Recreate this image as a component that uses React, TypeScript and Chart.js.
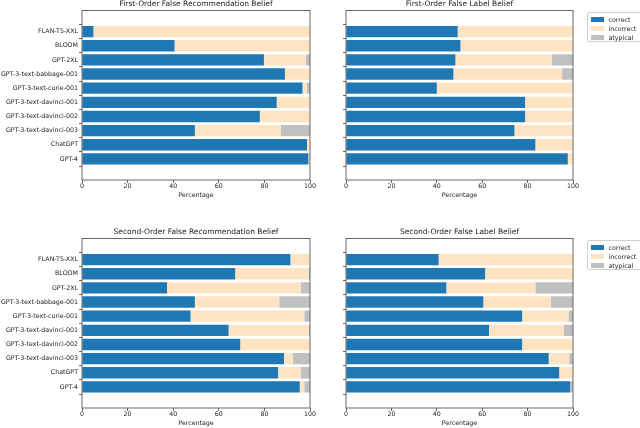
import React, { useEffect, useRef } from "react";
import { Chart, registerables } from "chart.js";

Chart.register(...registerables);

const models = [
  "FLAN-T5-XXL",
  "BLOOM",
  "GPT-2XL",
  "GPT-3-text-babbage-001",
  "GPT-3-text-curie-001",
  "GPT-3-text-davinci-001",
  "GPT-3-text-davinci-002",
  "GPT-3-text-davinci-003",
  "ChatGPT",
  "GPT-4",
];
const seriesNames = ["correct", "incorrect", "atypical"];
const xTicks = [0, 20, 40, 60, 80, 100];

// First-Order False Recommendation Belief
const foRecCorrect = [5, 40.6, 79.8, 89, 96.7, 85.4, 78, 49.5, 98.7, 99.3];
const foRecIncorrect = [95, 59.4, 18.4, 11, 1.8, 14.6, 22, 37.6, 1.3, 0.7];
const foRecAtypical = [0, 0, 1.8, 0, 1.5, 0, 0, 12.9, 0, 0];

// First-Order False Label Belief
const foLabCorrect = [49.2, 50.4, 48.2, 47.3, 40, 78.9, 78.9, 74.2, 83.4, 97.7];
const foLabIncorrect = [50.8, 49.6, 42.4, 47.9, 60, 21.1, 21.1, 25.8, 16.6, 2.3];
const foLabAtypical = [0, 0, 9.4, 4.8, 0, 0, 0, 0, 0, 0];

// Second-Order False Recommendation Belief
const soRecCorrect = [91.4, 67.2, 37.3, 49.5, 47.6, 64.3, 69.4, 88.6, 86, 95.5];
const soRecIncorrect = [8.6, 32.2, 58.6, 37, 49.9, 35.2, 30.6, 3.9, 9.9, 2];
const soRecAtypical = [0, 0.6, 4.1, 13.5, 2.5, 0.5, 0, 7.5, 4.1, 2.5];

// Second-Order False Label Belief
const soLabCorrect = [40.8, 61.3, 44.2, 60.5, 77.6, 63, 77.6, 89.3, 93.9, 98.7];
const soLabIncorrect = [59.2, 38.7, 39.2, 29.7, 20.4, 32.9, 22.4, 9, 6.1, 0];
const soLabAtypical = [0, 0, 16.6, 9.8, 2, 4.1, 0, 1.7, 0, 1.3];

const COLORS = ["#1f77b4", "#ffe4c4", "#c0c0c0"];
const FONT = "'DejaVu Sans', sans-serif";
const TEXT = "#222";
const SPINE = "#444";
const TICK_SIZE = 6.3;
const TITLE_SIZE = 7.5;

const framePlugin = {
  id: "frame",
  afterDraw(chart: any) {
    const { ctx, chartArea } = chart;
    ctx.save();
    ctx.strokeStyle = SPINE;
    ctx.lineWidth = 0.8;
    ctx.strokeRect(chartArea.left, chartArea.top, chartArea.right - chartArea.left, chartArea.bottom - chartArea.top);
    ctx.restore();
  },
};

type PanelProps = {
  title: string;
  series: number[][];
  showLabels: boolean;
  left: number;
  top: number;
  width: number;
  yWidth: number;
  padRight: number;
};

function Panel({ title, series, showLabels, left, top, width, yWidth, padRight }: PanelProps) {
  const ref = useRef<HTMLCanvasElement>(null);
  useEffect(() => {
    if (!ref.current) return;
    const chart = new Chart(ref.current, {
      type: "bar",
      data: {
        datasets: series.map((vals, s) => ({
          label: seriesNames[s],
          data: vals.map((v, i) => ({ x: v, y: i })),
          backgroundColor: COLORS[s],
          borderWidth: 0,
          categoryPercentage: 1,
          barPercentage: 0.8,
        })),
      },
      options: {
        indexAxis: "y",
        animation: false,
        responsive: false,
        devicePixelRatio: 1,
        layout: { padding: { left: 0, right: padRight, top: 0, bottom: 0 } },
        plugins: {
          legend: { display: false },
          tooltip: { enabled: false },
          title: {
            display: true,
            fullSize: false,
            text: title,
            color: TEXT,
            font: { family: FONT, size: TITLE_SIZE, weight: "normal", lineHeight: 1.2 },
            padding: { top: 0, bottom: 1.5 },
          },
        },
        scales: {
          x: {
            type: "linear",
            stacked: true,
            min: 0,
            max: 100,
            afterBuildTicks: (axis: any) => {
              axis.ticks = xTicks.map((v) => ({ value: v }));
            },
            afterFit: (axis: any) => {
              axis.height = 20;
            },
            border: { display: false },
            grid: { drawOnChartArea: false, drawTicks: true, tickLength: 3, color: SPINE, lineWidth: 0.8 },
            ticks: { color: TEXT, font: { family: FONT, size: TICK_SIZE }, padding: 0, maxRotation: 0 },
            title: {
              display: true,
              text: "Percentage",
              color: TEXT,
              font: { family: FONT, size: TICK_SIZE, lineHeight: 1.2 },
              padding: { top: 0, bottom: 1 },
            },
          },
          y: {
            type: "linear",
            stacked: true,
            reverse: true,
            min: -0.89,
            max: 9.89,
            afterBuildTicks: (axis: any) => {
              axis.ticks = models.map((_, i) => ({ value: i }));
            },
            afterFit: (axis: any) => {
              axis.width = yWidth;
            },
            border: { display: false },
            grid: { drawOnChartArea: false, drawTicks: true, tickLength: 3, color: SPINE, lineWidth: 0.8 },
            ticks: {
              autoSkip: false,
              color: TEXT,
              font: { family: FONT, size: TICK_SIZE },
              padding: 1,
              callback: (v: any) => (showLabels ? models[Number(v)] ?? "" : ""),
            },
          },
        },
      },
      plugins: [framePlugin],
    });
    return () => chart.destroy();
  }, []);
  return (
    <canvas
      ref={ref}
      width={width}
      height={200}
      style={{ position: "absolute", left, top, width, height: 200 }}
    />
  );
}

function Legend({ top }: { top: number }) {
  return (
    <div
      style={{
        position: "absolute",
        left: 587,
        top,
        width: 56,
        height: 30,
        boxSizing: "border-box",
        border: "0.8px solid #d0d0d0",
        borderRadius: 2,
        background: "#fff",
        fontFamily: FONT,
        fontSize: TICK_SIZE,
        color: TEXT,
        paddingTop: 1.5,
      }}
    >
      {seriesNames.map((n, i) => (
        <div key={n} style={{ display: "flex", alignItems: "center", height: 9.3 }}>
          <span
            style={{
              display: "inline-block",
              width: 13,
              height: 5,
              marginLeft: 3,
              marginRight: 4.5,
              background: COLORS[i],
            }}
          />
          <span>{n}</span>
        </div>
      ))}
    </div>
  );
}

export default function App() {
  return (
    <div style={{ position: "fixed", left: 0, top: 0, width: 640, height: 428, background: "#fff", overflow: "hidden" }}>
      <Panel
        title="First-Order False Recommendation Belief"
        series={[foRecCorrect, foRecIncorrect, foRecAtypical]}
        showLabels={true}
        left={0}
        top={0}
        width={320}
        yWidth={82}
        padRight={10}
      />
      <Panel
        title="First-Order False Label Belief"
        series={[foLabCorrect, foLabIncorrect, foLabAtypical]}
        showLabels={false}
        left={320}
        top={0}
        width={320}
        yWidth={26}
        padRight={67}
      />
      <Panel
        title="Second-Order False Recommendation Belief"
        series={[soRecCorrect, soRecIncorrect, soRecAtypical]}
        showLabels={true}
        left={0}
        top={228}
        width={320}
        yWidth={82}
        padRight={10}
      />
      <Panel
        title="Second-Order False Label Belief"
        series={[soLabCorrect, soLabIncorrect, soLabAtypical]}
        showLabels={false}
        left={320}
        top={228}
        width={320}
        yWidth={26}
        padRight={67}
      />
      <Legend top={12} />
      <Legend top={240} />
    </div>
  );
}
